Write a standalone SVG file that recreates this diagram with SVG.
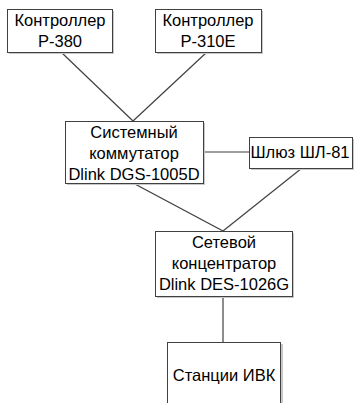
<svg xmlns="http://www.w3.org/2000/svg" width="354" height="403" viewBox="0 0 354 403">
<style>
.box{fill:#fff;stroke:#404040;stroke-width:1}
.sh{fill:#c8c8c8}
.t{font-family:"Liberation Sans",Arial,sans-serif;font-size:16.5px;fill:#000;text-anchor:middle}
.c{stroke:#404040;stroke-width:1.2;fill:none}
</style>
<rect width="354" height="403" fill="#fff"/>
<g id="connectors">
<line class="c" x1="61" y1="52" x2="133" y2="121"/>
<line class="c" x1="207" y1="52" x2="133" y2="121"/>
<line class="c" x1="203" y1="152" x2="249" y2="152"/>
<line class="c" x1="133" y1="183" x2="223" y2="231"/>
<line class="c" x1="302" y1="168" x2="223" y2="231"/>
<line class="c" x1="223" y1="296" x2="223" y2="342"/>
</g>
<g id="n1">
<rect class="sh" x="9" y="11" width="105" height="43"/>
<rect class="box" x="7.5" y="9.5" width="105" height="43"/>
<text class="t" x="60" y="26">Контроллер</text>
<text class="t" x="60" y="47">Р-380</text>
</g>
<g id="n2">
<rect class="sh" x="157" y="11" width="106" height="43"/>
<rect class="box" x="155.5" y="9.5" width="106" height="43"/>
<text class="t" x="208" y="26">Контроллер</text>
<text class="t" x="208" y="47">Р-310Е</text>
</g>
<g id="n3">
<rect class="sh" x="67" y="123" width="138" height="62"/>
<rect class="box" x="65.5" y="121.5" width="138" height="62"/>
<text class="t" x="134" y="138">Системный</text>
<text class="t" x="134" y="159">коммутатор</text>
<text class="t" x="134" y="180">Dlink DGS-1005D</text>
</g>
<g id="n4">
<rect class="sh" x="251" y="139" width="103" height="31"/>
<rect class="box" x="249.5" y="137.5" width="103" height="31"/>
<text class="t" x="300" y="158">Шлюз ШЛ-81</text>
</g>
<g id="n5">
<rect class="sh" x="157" y="233" width="137" height="65"/>
<rect class="box" x="155.5" y="231.5" width="137" height="65"/>
<text class="t" x="224" y="248">Сетевой</text>
<text class="t" x="224" y="269">концентратор</text>
<text class="t" x="224" y="290">Dlink DES-1026G</text>
</g>
<g id="n6">
<rect class="sh" x="169" y="344" width="114" height="70"/>
<rect class="box" x="167.5" y="342.5" width="113" height="70"/>
<text class="t" x="224" y="381">Станции ИВК</text>
</g>
</svg>
